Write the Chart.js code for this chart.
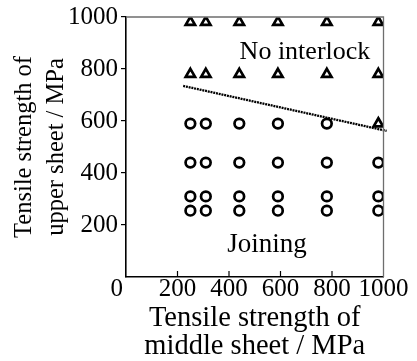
<!DOCTYPE html>
<html>
<head>
<meta charset="utf-8">
<script src="https://cdn.jsdelivr.net/npm/chart.js@4.4.1/dist/chart.umd.min.js"></script>
<style>
  html, body { margin: 0; padding: 0; background: #fff; }
  #wrap { width: 417px; height: 361px; position: relative; }
</style>
</head>
<body>
<div id="wrap"><canvas id="c"></canvas></div>
<script>
// ---- data ----
const middleStrength = [250, 310, 440, 590, 780, 980];          // x categories (MPa)
const upperStrength  = [255, 310, 440, 590, 780, 980];          // y levels (MPa)
// outcome per upper-strength row (index matches upperStrength), per middle-strength column
// 'J' = joining (circle), 'N' = no interlock (triangle)
const outcomeRows = [
  ['J','J','J','J','J','J'],
  ['J','J','J','J','J','J'],
  ['J','J','J','J','J','J'],
  ['J','J','J','J','J','N'],
  ['N','N','N','N','N','N'],
  ['N','N','N','N','N','N']
];
const boundaryX = [222, 1012];
const boundaryY = [735, 562];
const xTicks = [0, 200, 400, 600, 800, 1000];
const yTicks = [200, 400, 600, 800, 1000];
const regionLabels = ['No interlock', 'Joining'];

// ---- build datasets ----
const joinPts = [], noPts = [];
upperStrength.forEach((u, r) => {
  middleStrength.forEach((m, c) => {
    (outcomeRows[r][c] === 'J' ? joinPts : noPts).push({x: m, y: u});
  });
});
const boundaryPts = boundaryX.map((x, i) => ({x: x, y: boundaryY[i]}));

const FONT = "'Liberation Serif', serif";

const framePlugin = {
  id: 'frame',
  afterDraw(chart) {
    const ctx = chart.ctx;
    const a = chart.chartArea;
    const xs = chart.scales.x, ys = chart.scales.y;
    ctx.save();
    // top & right frame (gray)
    ctx.strokeStyle = '#6e6e6e';
    ctx.lineWidth = 1.3;
    ctx.beginPath();
    ctx.moveTo(a.left, a.top); ctx.lineTo(a.right, a.top); ctx.lineTo(a.right, a.bottom);
    ctx.stroke();
    // inside ticks on x axis
    ctx.strokeStyle = '#000';
    ctx.lineWidth = 1.2;
    xTicks.forEach(v => {
      if (v === 0 || v === 1000) return;
      const px = xs.getPixelForValue(v);
      ctx.beginPath(); ctx.moveTo(px, a.bottom); ctx.lineTo(px, a.bottom - 6); ctx.stroke();
    });
    // region labels
    ctx.fillStyle = '#000';
    ctx.textAlign = 'center';
    ctx.textBaseline = 'alphabetic';
    ctx.font = "26px " + FONT;
    ctx.fillText(regionLabels[0], xs.getPixelForValue(695), ys.getPixelForValue(837));
    ctx.font = "27px " + FONT;
    ctx.fillText(regionLabels[1], xs.getPixelForValue(548), ys.getPixelForValue(96));
    ctx.restore();
  }
};

new Chart(document.getElementById('c'), {
  type: 'scatter',
  data: {
    datasets: [
      {
        label: 'Joining',
        data: joinPts,
        pointStyle: 'circle',
        pointRadius: 4.8,
        pointBorderWidth: 2.7,
        borderWidth: 2.7,
        borderColor: '#000',
        pointBorderColor: '#000',
        backgroundColor: 'rgba(0,0,0,0)',
        pointBackgroundColor: 'rgba(0,0,0,0)'
      },
      {
        label: 'No interlock',
        data: noPts,
        pointStyle: 'triangle',
        pointRadius: 5.4,
        pointBorderWidth: 2.7,
        borderWidth: 2.7,
        borderColor: '#000',
        pointBorderColor: '#000',
        backgroundColor: 'rgba(0,0,0,0)',
        pointBackgroundColor: 'rgba(0,0,0,0)'
      },
      {
        label: 'Boundary',
        type: 'line',
        data: boundaryPts,
        showLine: true,
        borderColor: '#000',
        borderWidth: 2.3,
        borderDash: [2, 0.8],
        pointRadius: 0,
        fill: false,
        clip: false
      }
    ]
  },
  options: {
    responsive: true,
    maintainAspectRatio: false,
    animation: false,
    devicePixelRatio: 1,
    layout: { padding: { left: 0, top: 17, right: 33.5, bottom: 0 } },
    plugins: { legend: { display: false }, tooltip: { enabled: false } },
    scales: {
      x: {
        type: 'linear',
        min: 0, max: 1000,
        afterBuildTicks(s) { s.ticks = xTicks.map(v => ({value: v})); },
        afterFit(s) { s.height = 84; },
        grid: { display: false, drawTicks: false, drawOnChartArea: false },
        border: { display: true, color: '#000', width: 1.6 },
        ticks: {
          color: '#000',
          padding: 0,
          font: { family: FONT, size: 25, lineHeight: 1.0 },
          maxRotation: 0,
          autoSkip: false,
          callback: v => (v === 0 ? '0   ' : String(v))
        },
        title: {
          display: true,
          text: ['Tensile strength of', 'middle sheet / MPa'],
          color: '#000',
          font: { family: FONT, size: 28.5, lineHeight: 1.0 },
          padding: { top: 0, bottom: 0 }
        }
      },
      y: {
        type: 'linear',
        min: 0, max: 1000,
        afterBuildTicks(s) { s.ticks = yTicks.map(v => ({value: v})); },
        afterFit(s) { s.width = 126; },
        grid: { display: true, drawOnChartArea: false, drawTicks: true, tickLength: 5, color: '#000', lineWidth: 1.2 },
        border: { display: true, color: '#000', width: 1.6 },
        ticks: {
          color: '#000',
          padding: 3,
          font: { family: FONT, size: 25, lineHeight: 1.0 },
          autoSkip: false,
          callback: v => String(v)
        },
        title: {
          display: true,
          text: ['Tensile strength of', 'upper sheet / MPa'],
          color: '#000',
          font: { family: FONT, size: 24.5, lineHeight: 1.3 },
          padding: { top: 9, bottom: 0 }
        }
      }
    }
  },
  plugins: [framePlugin]
});
</script>
</body>
</html>
